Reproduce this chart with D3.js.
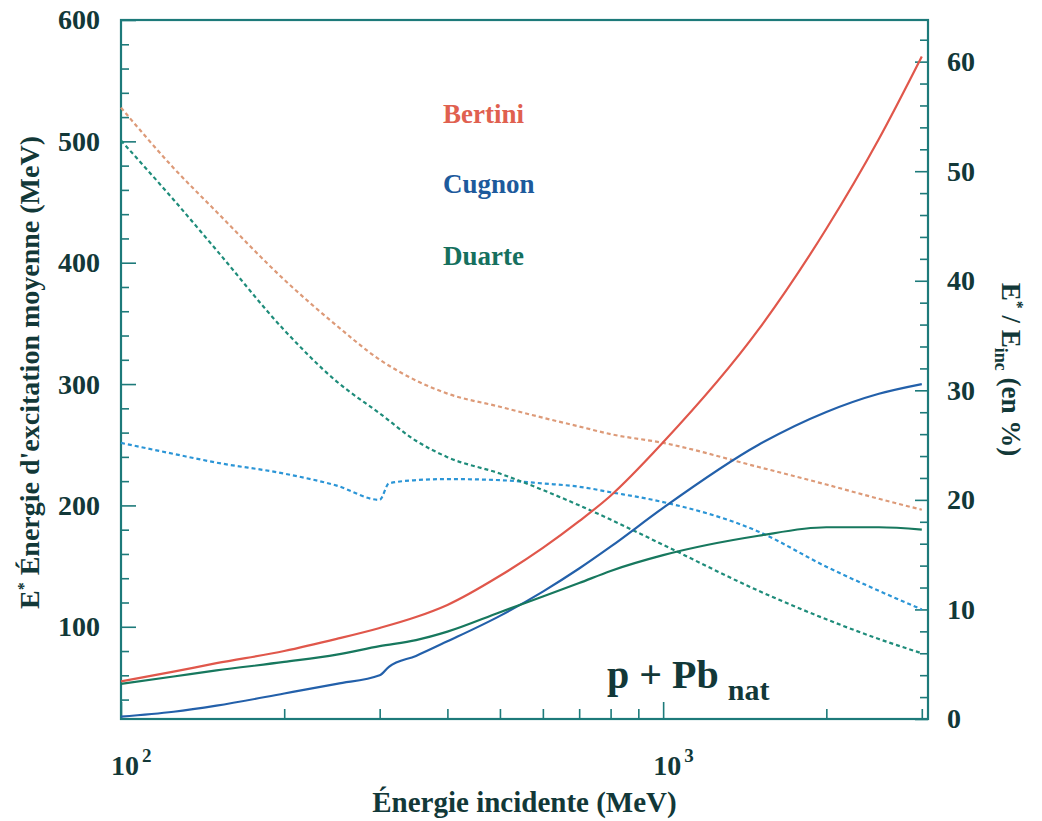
<!DOCTYPE html>
<html><head><meta charset="utf-8">
<script src="https://cdn.jsdelivr.net/npm/d3@7"></script>
<style>
body{margin:0;background:#fff;}
text{font-family:"Liberation Serif","Times New Roman",serif;font-weight:bold;}
</style>
</head><body>
<svg id="chart" width="1042" height="821"></svg>
<script>
// ---- data ----
const energyMeV       = [100,125,150,200,250,300,350,400,500,600,700,800,1000,1500,2000,2500,3000];
const energyCugnonMeV = [100,125,150,200,250,300,312,350,400,500,600,700,800,1000,1500,2000,2500,3000];

// mean excitation energy E* (MeV) - solid lines, left axis
const bertiniExc = [55,63,70,80,90,99,108,118,142,165,187,208,252,345,428,502,570];
const cugnonExc  = [26,30,35,45,53,60,67,76,88,109,129,148,166,198,250,277,292,300];
const duarteExc  = [53,59,64,71,77,84,89,96,112,125,136,146,159,175,182,182,180];

// E*/Einc (%) - dashed lines, right axis
const bertiniRatio = [55.8,50.3,46.3,40.1,35.9,32.8,30.9,29.7,28.5,27.5,26.7,26.0,25.2,23.0,21.4,20.1,19.1];
const cugnonRatio  = [25.2,24.2,23.4,22.4,21.3,20.0,21.5,21.8,21.9,21.8,21.5,21.2,20.7,19.8,17.1,13.9,11.7,10.0];
const duarteRatio  = [52.8,47.4,42.8,35.5,30.8,27.9,25.4,23.9,22.4,20.9,19.5,18.2,15.9,11.7,9.1,7.3,6.0];

const leftTicks  = [100,200,300,400,500,600];
const rightTicks = [0,10,20,30,40,50,60];
const xMajorTicks = [100,1000];
const xMinorTicks = [200,300,400,500,600,700,800,900,2000,3000];
const legendNames = ["Bertini","Cugnon","Duarte"];

// ---- drawing ----
const svg = d3.select("#chart");
const L=121, R=928, T=20, B=719;
const axisColor = "#1d7a7a", textColor = "#123838";

const x  = d3.scaleLog().domain([100,3080]).range([L,R]);
const yL = d3.scaleLinear().domain([24,600]).range([B,T]);
const yR = d3.scaleLinear().domain([0,63.8]).range([B,T]);

function styleAxis(g){
  g.select(".domain").remove();
  g.attr("color",axisColor);
  g.selectAll(".tick line").attr("stroke-width",1.6);
  g.selectAll(".tick text").attr("fill",textColor).style("font-size","28px")
   .style("font-family","'Liberation Serif',serif").style("font-weight","bold");
}

// left axis
const leftMinor = d3.range(40,600,20).filter(v=>v%100!==0);
svg.append("g").attr("transform",`translate(${L},0)`)
  .call(d3.axisLeft(yL).tickValues(leftMinor).tickSize(-8).tickFormat("")).call(styleAxis);
svg.append("g").attr("transform",`translate(${L},0)`)
  .call(d3.axisLeft(yL).tickValues(leftTicks).tickSize(-15).tickPadding(21).tickFormat(d3.format("d"))).call(styleAxis);

// right axis
const rightMinor = d3.range(2,64,2).filter(v=>v%10!==0);
svg.append("g").attr("transform",`translate(${R},0)`)
  .call(d3.axisRight(yR).tickValues(rightMinor).tickSize(-8).tickFormat("")).call(styleAxis);
svg.append("g").attr("transform",`translate(${R},0)`)
  .call(d3.axisRight(yR).tickValues(rightTicks).tickSize(-13).tickPadding(19).tickFormat(d3.format("d"))).call(styleAxis);

// bottom axis
svg.append("g").attr("transform",`translate(0,${B})`)
  .call(d3.axisBottom(x).tickValues(xMinorTicks).tickSize(-10).tickFormat("")).call(styleAxis);
svg.append("g").attr("transform",`translate(0,${B})`)
  .call(d3.axisBottom(x).tickValues(xMajorTicks).tickSize(-17).tickFormat("")).call(styleAxis);

// x tick labels 10^n
xMajorTicks.forEach(v=>{
  const t = svg.append("text").attr("x",x(v)-10).attr("y",775).attr("fill",textColor)
    .style("font-size","28px");
  t.append("tspan").text("10");
  t.append("tspan").attr("dx",3).attr("dy",-13).style("font-size","19px").text(String(Math.round(Math.log10(v))));
});

// frame
svg.append("rect").attr("x",L).attr("y",T).attr("width",R-L).attr("height",B-T)
  .attr("fill","none").attr("stroke",axisColor).attr("stroke-width",2.2);

// lines
const lineL = d3.line().x(d=>x(d[0])).y(d=>yL(d[1])).curve(d3.curveMonotoneX);
const lineR = d3.line().x(d=>x(d[0])).y(d=>yR(d[1])).curve(d3.curveMonotoneX);
const zip = (a,b)=>a.map((v,i)=>[v,b[i]]);

const series = [
  {e:energyMeV, exc:bertiniExc, ratio:bertiniRatio, solid:"#e0574b", dash:"#dd9a78"},
  {e:energyCugnonMeV, exc:cugnonExc, ratio:cugnonRatio, solid:"#2360aa", dash:"#2b95d6"},
  {e:energyMeV, exc:duarteExc, ratio:duarteRatio, solid:"#17785e", dash:"#1e8c7a"}
];
series.forEach(s=>{
  svg.append("path").attr("d",lineR(zip(s.e,s.ratio))).attr("fill","none")
    .attr("stroke",s.dash).attr("stroke-width",2.2).attr("stroke-dasharray","4,3");
});
series.forEach(s=>{
  svg.append("path").attr("d",lineL(zip(s.e,s.exc))).attr("fill","none")
    .attr("stroke",s.solid).attr("stroke-width",2.2);
});

// legend texts
const legendColors = ["#e0604f","#1d5a9c","#16705e"];
const legendY = [123,193,265];
legendNames.forEach((n,i)=>{
  svg.append("text").attr("x",443).attr("y",legendY[i]).attr("fill",legendColors[i])
    .style("font-size","27px").text(n);
});

// reaction label
const rl = svg.append("text").attr("x",607).attr("y",688).attr("fill",textColor).style("font-size","40px");
rl.append("tspan").text("p + Pb");
rl.append("tspan").attr("dx",9).attr("dy",12).style("font-size","30px").text("nat");

// x axis title
svg.append("text").attr("x",(L+R)/2).attr("y",812).attr("text-anchor","middle")
  .attr("fill",textColor).style("font-size","29px").text("Énergie incidente (MeV)");

// left axis title
const lt = svg.append("text").attr("transform",`translate(39,${(T+B)/2+3}) rotate(-90)`)
  .attr("text-anchor","middle").attr("fill",textColor).style("font-size","28px");
lt.append("tspan").text("E");
lt.append("tspan").attr("dy",-10).style("font-size","16px").text("*");
lt.append("tspan").attr("dy",10).text(" Énergie d'excitation moyenne (MeV)");

// right axis title
const rt = svg.append("text").attr("transform",`translate(1002,${(T+B)/2}) rotate(90)`)
  .attr("text-anchor","middle").attr("fill",textColor).style("font-size","27px");
rt.append("tspan").text("E");
rt.append("tspan").attr("dy",-10).style("font-size","16px").text("*");
rt.append("tspan").attr("dy",10).text(" / E");
rt.append("tspan").attr("dy",7).style("font-size","18px").text("inc");
rt.append("tspan").attr("dy",-7).text(" (en %)");
</script>
</body></html>
